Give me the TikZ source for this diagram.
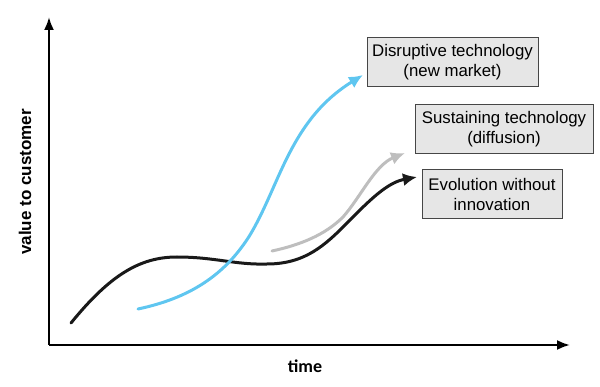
\documentclass[tikz,border=0pt]{standalone}
\usepackage{fontspec}
\setmainfont{Liberation Sans}
\newfontfamily\timefont{Carlito}
\usetikzlibrary{arrows.meta}
\definecolor{skyline}{RGB}{95,198,240}
\definecolor{greyline}{RGB}{190,190,190}
\definecolor{boxfill}{RGB}{230,230,230}
\definecolor{boxedge}{RGB}{70,70,70}
\begin{document}
\begin{tikzpicture}[x=1pt,y=-1pt]
  \tikzstyle{axis}=[line width=2.2pt,-{Latex[length=13pt,width=10pt]}]
  \tikzstyle{trend}=[line width=3pt,line cap=round,-{Latex[length=14pt,width=13pt]}]
  \tikzstyle{label box}=[draw=boxedge,fill=boxfill,line width=0.9pt,align=center,
    font=\fontsize{16.8}{20}\selectfont,minimum height=49pt,inner sep=2pt]
  \useasboundingbox (0,0) rectangle (600,387);
  % axes
  \coordinate (origin) at (49,345);
  \coordinate (ytop) at (49,17);
  \coordinate (xend) at (570,345);
  \draw[axis] (origin) -- (ytop);
  \draw[axis] (origin) -- (xend);
  \node[rotate=90,font=\fontsize{17}{20}\selectfont\bfseries] (yname) at (25,182) {value to customer};
  \node[font=\fontsize{18}{20}\selectfont\timefont\bfseries] (xname) at (305,366) {time};
  % labels
  \node[label box,minimum width=171pt] (disrupt) at (452.5,62) {Disruptive technology\\(new market)};
  \node[label box,minimum width=178pt] (sustain) at (504,129) {Sustaining technology\\(diffusion)};
  \node[label box,minimum width=140pt] (evolve) at (492,194) {Evolution without\\innovation};
  % curves
  \coordinate (evolve tip) at (417,177);
  \coordinate (sustain tip) at (405,153);
  \coordinate (disrupt tip) at (363,75);
  \draw[trend,black!90] (71,323) .. controls (110,275) and (140,257) .. (177,257)
    .. controls (215,257) and (235,265) .. (267,264)
    .. controls (310,264) and (330,240) .. (357,213)
    .. controls (375,195) and (390,182) .. (evolve tip);
  \draw[trend,greyline] (272,251) .. controls (300,245) and (325,235) .. (343,217)
    .. controls (360,198) and (375,165) .. (sustain tip);
  \draw[trend,skyline] (138,309) .. controls (190,298) and (225,275) .. (250,235)
    .. controls (280,185) and (290,120) .. (disrupt tip);
\end{tikzpicture}
\end{document}
